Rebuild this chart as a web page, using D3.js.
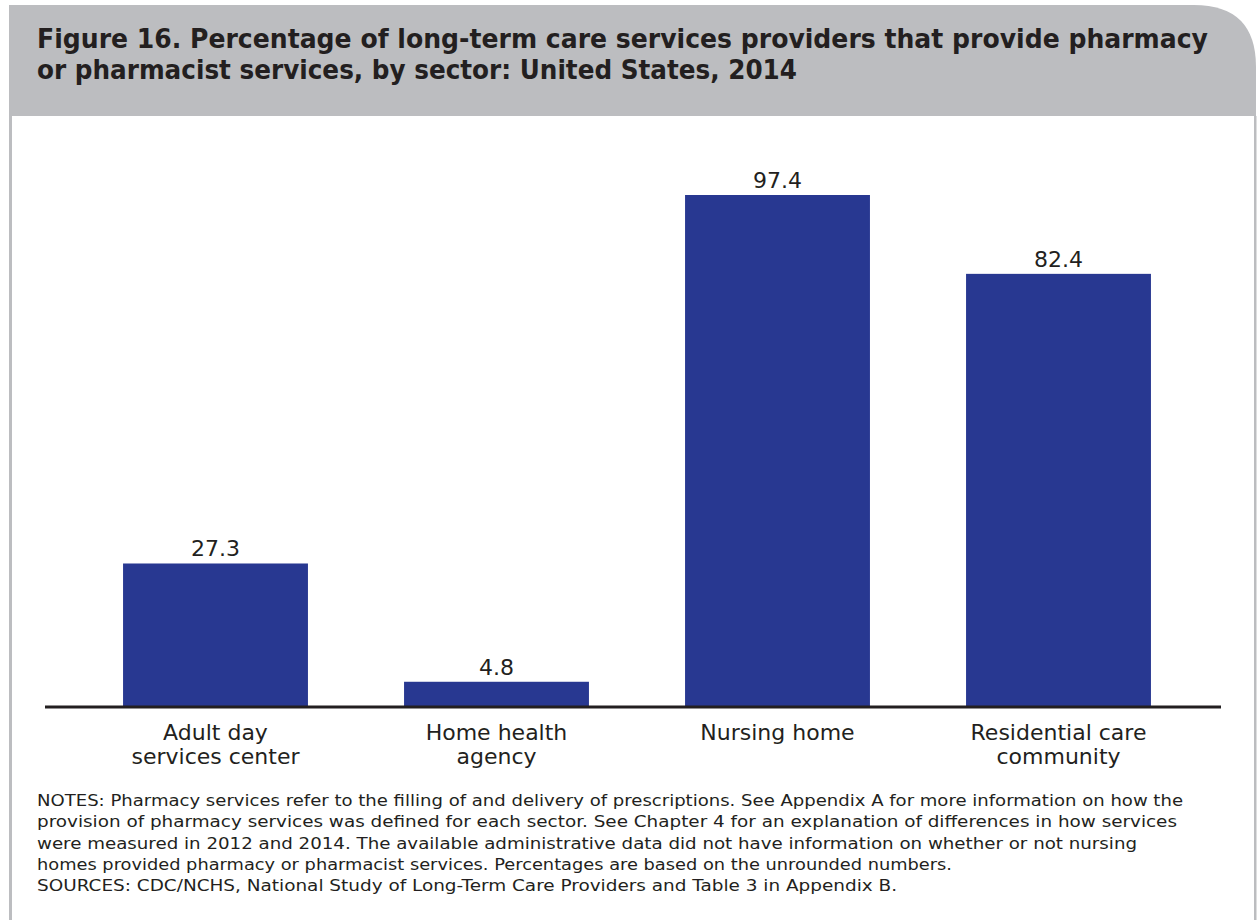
<!DOCTYPE html>
<html>
<head>
<meta charset="utf-8">
<script src="https://cdn.jsdelivr.net/npm/d3@7"></script>
<style>
  html, body { margin: 0; padding: 0; background: #ffffff; }
  svg { display: block; }
</style>
</head>
<body>
<svg id="chart" width="1258" height="920"></svg>
<script>
const categories = [
  ["Adult day", "services center"],
  ["Home health", "agency"],
  ["Nursing home"],
  ["Residential care", "community"]
];
const values = [27.3, 4.8, 97.4, 82.4];
const valueLabels = ["27.3", "4.8", "97.4", "82.4"];
const titleLines = [
  "Figure 16. Percentage of long-term care services providers that provide pharmacy",
  "or pharmacist services, by sector: United States, 2014"
];
const titleWidths = [1171, 760];
const notesLines = [
  "NOTES: Pharmacy services refer to the filling of and delivery of prescriptions. See Appendix A for more information on how the",
  "provision of pharmacy services was defined for each sector. See Chapter 4 for an explanation of differences in how services",
  "were measured in 2012 and 2014. The available administrative data did not have information on whether or not nursing",
  "homes provided pharmacy or pharmacist services. Percentages are based on the unrounded numbers.",
  "SOURCES: CDC/NCHS, National Study of Long-Term Care Providers and Table 3 in Appendix B."
];
const notesWidths = [1146, 1140, 1100, 915, 860];

const svg = d3.select("#chart");
const font = "'DejaVu Sans', 'Lato', sans-serif";

// Frame: gray header with rounded top-right corner, side borders
const hx0 = 9, hx1 = 1256, hy0 = 5, hy1 = 116, r = 62;
svg.append("path")
  .attr("d", `M${hx0},${hy0} L${hx1 - r},${hy0} Q${hx1},${hy0} ${hx1},${hy0 + r} L${hx1},${hy1} L${hx0},${hy1} Z`)
  .attr("fill", "#bcbdc0");
svg.append("rect").attr("x", hx0).attr("y", hy1).attr("width", 3).attr("height", 920 - hy1).attr("fill", "#bcbdc0");
svg.append("rect").attr("x", 1254).attr("y", hy1).attr("width", 2.5).attr("height", 920 - hy1).attr("fill", "#bcbdc0");

// Title
svg.append("g").selectAll("text").data(titleLines).join("text")
  .attr("x", 37)
  .attr("y", (d, i) => 48 + i * 31)
  .attr("font-family", font)
  .attr("font-weight", "bold")
  .attr("font-size", 26)
  .attr("textLength", (d, i) => titleWidths[i])
  .attr("lengthAdjust", "spacingAndGlyphs")
  .attr("fill", "#231f20")
  .text(d => d);

// Scales
const baseY = 707;
const y = d3.scaleLinear().domain([0, 97.4]).range([baseY, 195]);
const x = d3.scaleBand().domain(d3.range(categories.length)).range([75, 1199])
  .paddingInner(0.342).paddingOuter(0.171);

// Bars
svg.append("g").selectAll("rect").data(values).join("rect")
  .attr("x", (d, i) => x(i))
  .attr("y", d => y(d))
  .attr("width", x.bandwidth())
  .attr("height", d => baseY - y(d))
  .attr("fill", "#283891");

// Axis line
svg.append("line")
  .attr("x1", 45).attr("x2", 1221)
  .attr("y1", baseY).attr("y2", baseY)
  .attr("stroke", "#231f20").attr("stroke-width", 3);

// Value labels
svg.append("g").selectAll("text").data(values).join("text")
  .attr("x", (d, i) => x(i) + x.bandwidth() / 2)
  .attr("y", d => y(d) - 7)
  .attr("text-anchor", "middle")
  .attr("font-family", font)
  .attr("font-size", 22)
  .attr("fill", "#231f20")
  .text((d, i) => valueLabels[i]);

// Category labels (one text element per line)
const catLines = [];
categories.forEach((lines, i) => lines.forEach((t, j) => catLines.push({ i, j, t })));
svg.append("g").selectAll("text").data(catLines).join("text")
  .attr("x", d => x(d.i) + x.bandwidth() / 2)
  .attr("y", d => 740 + d.j * 24)
  .attr("text-anchor", "middle")
  .attr("font-family", font)
  .attr("font-size", 22)
  .attr("fill", "#231f20")
  .text(d => d.t);

// Notes
svg.append("g").selectAll("text").data(notesLines).join("text")
  .attr("x", 37)
  .attr("y", (d, i) => 806 + i * 21.3)
  .attr("font-family", font)
  .attr("font-size", 16)
  .attr("textLength", (d, i) => notesWidths[i])
  .attr("lengthAdjust", "spacingAndGlyphs")
  .attr("fill", "#231f20")
  .text(d => d);
</script>
</body>
</html>
